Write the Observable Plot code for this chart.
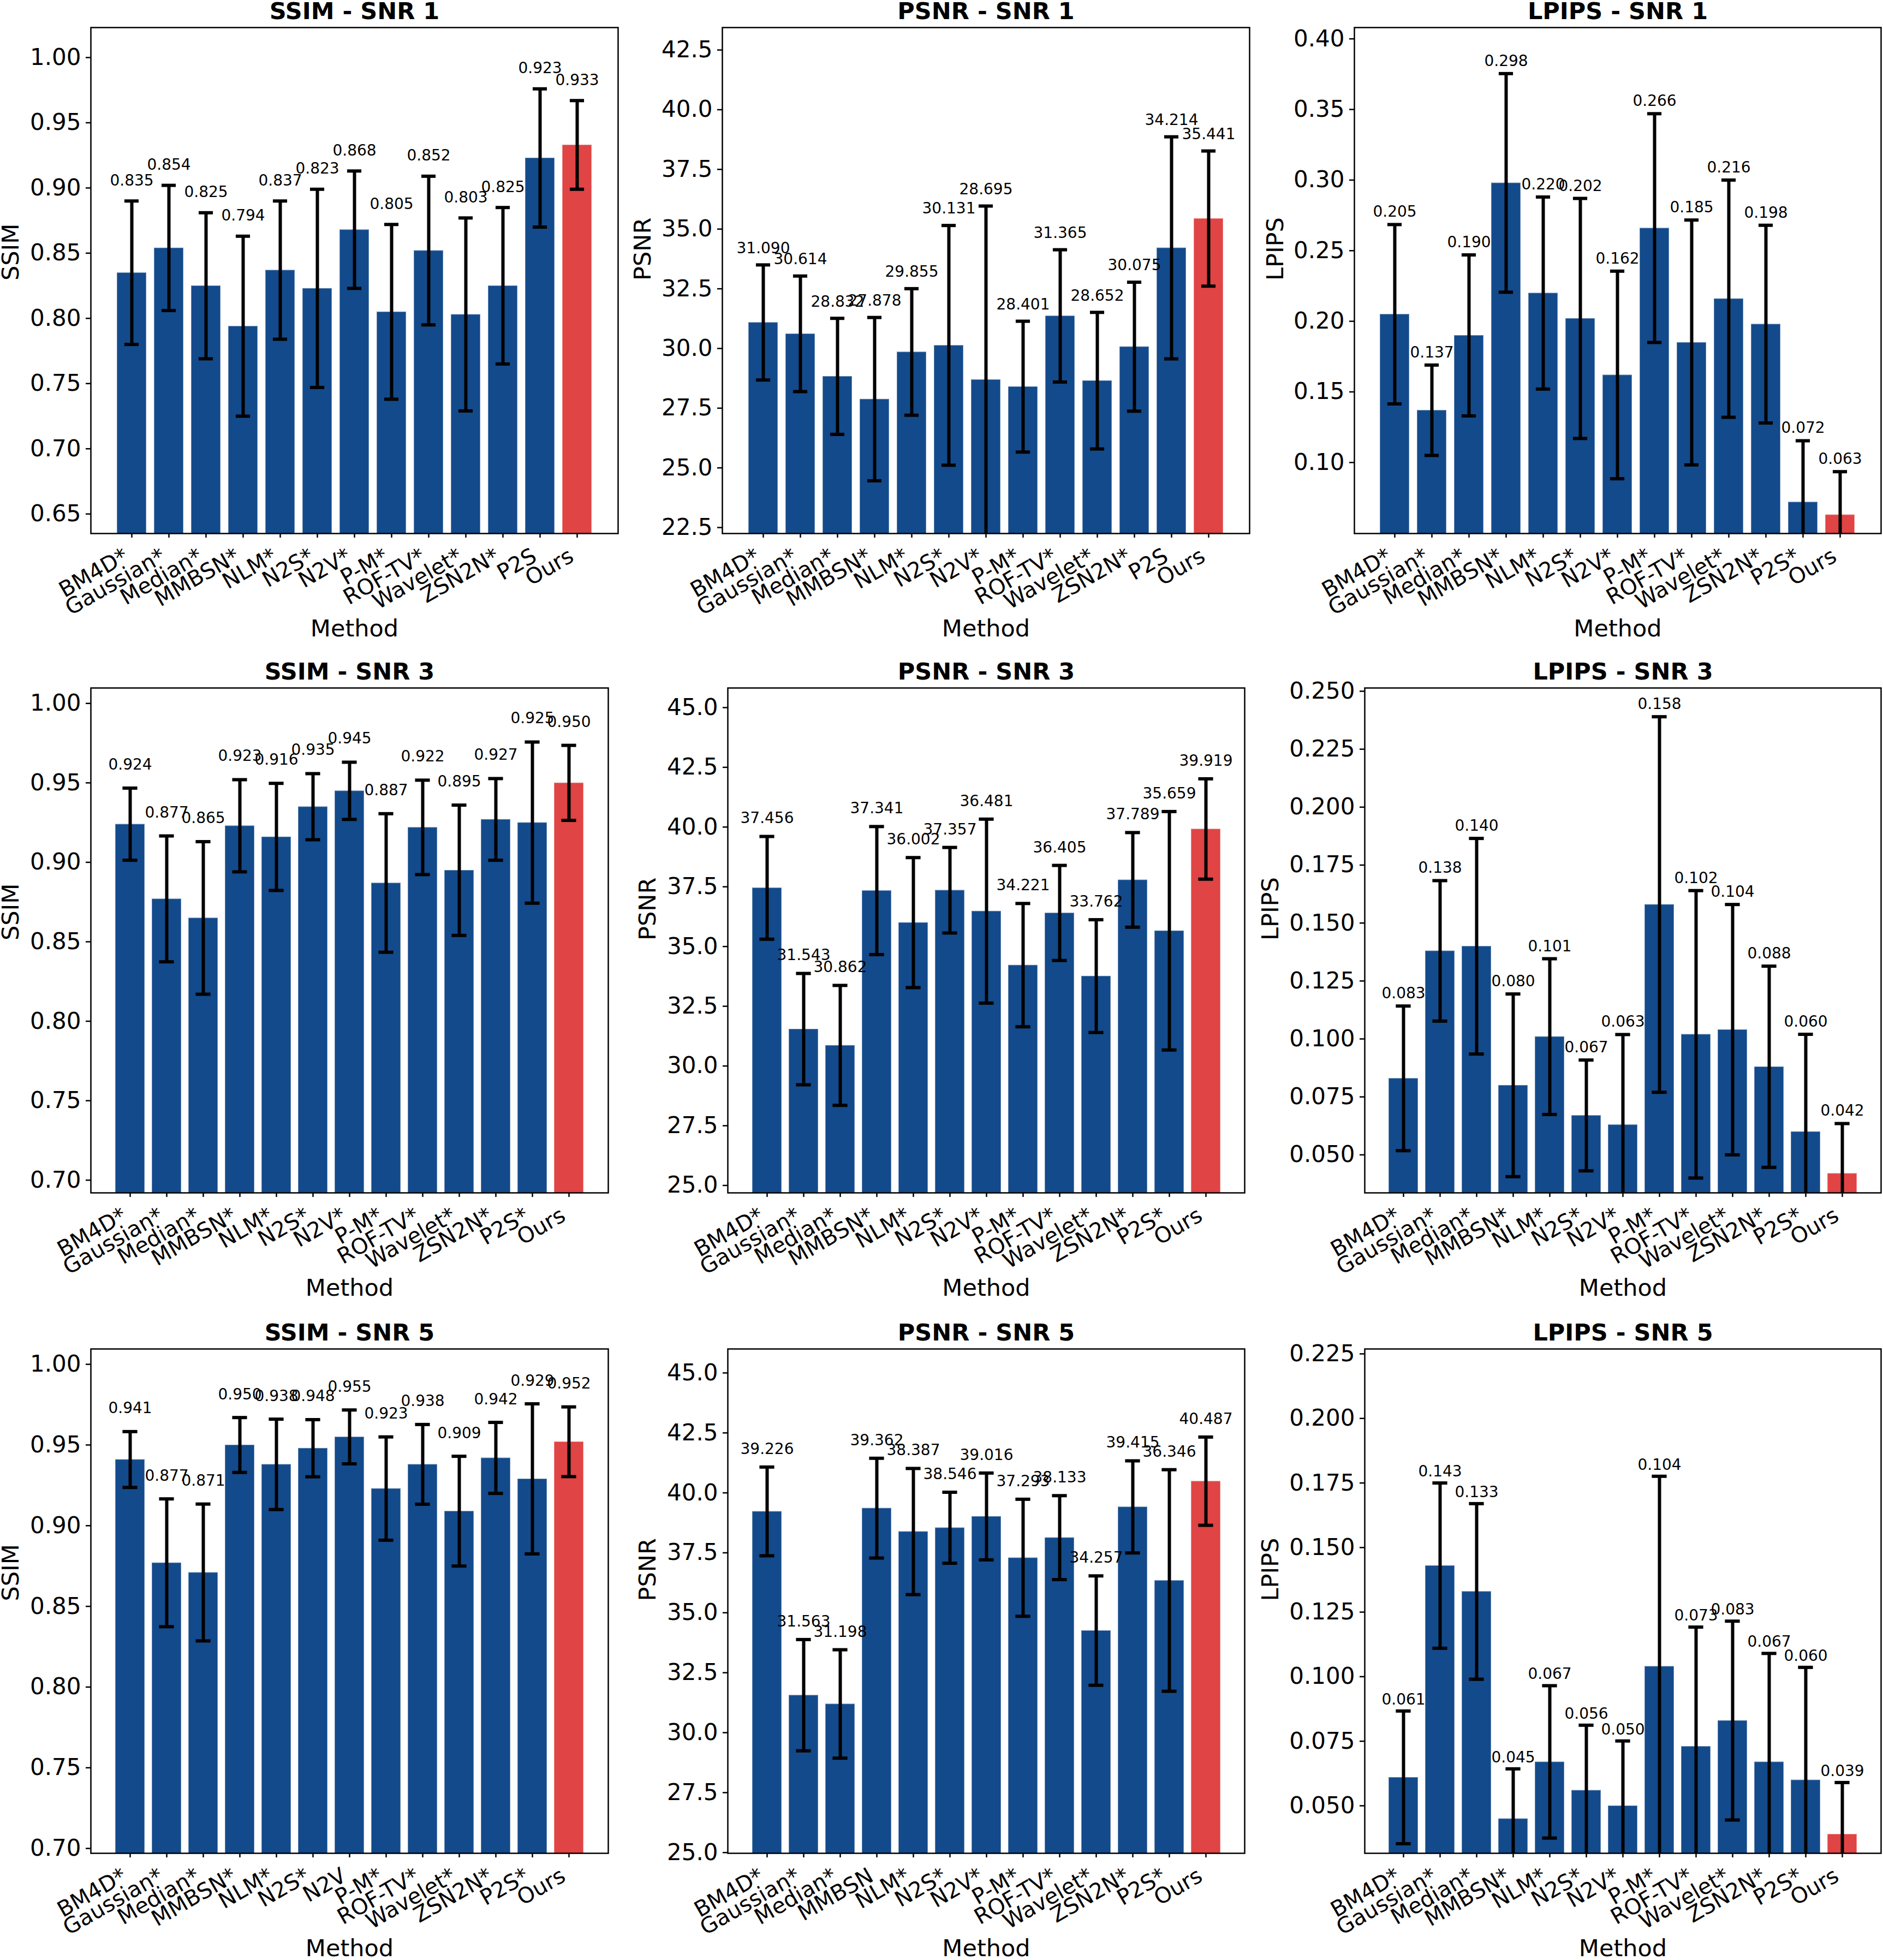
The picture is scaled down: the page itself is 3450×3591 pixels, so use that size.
<!DOCTYPE html>
<html><head><meta charset="utf-8">
<script src="https://cdn.jsdelivr.net/npm/d3@7"></script>
<script src="https://cdn.jsdelivr.net/npm/@observablehq/plot@0.6"></script>
<style>
html,body{margin:0;padding:0;background:#fff;}
#root{position:relative;width:3450px;height:3591px;overflow:hidden;background:#fff;font-family:"DejaVu Sans";}
#root svg{position:absolute;max-width:none;}
</style></head><body><div id="root"></div>
<script>
// ---------- categories ----------
const methodsSsimSnr1  = ["BM4D*","Gaussian*","Median*","MMBSN*","NLM*","N2S*","N2V*","P-M*","ROF-TV*","Wavelet*","ZSN2N*","P2S","Ours"];
const methodsPsnrSnr1  = ["BM4D*","Gaussian*","Median*","MMBSN*","NLM*","N2S*","N2V*","P-M*","ROF-TV*","Wavelet*","ZSN2N*","P2S","Ours"];
const methodsLpipsSnr1 = ["BM4D*","Gaussian*","Median*","MMBSN*","NLM*","N2S*","N2V*","P-M*","ROF-TV*","Wavelet*","ZSN2N*","P2S*","Ours"];
const methodsSnr3      = ["BM4D*","Gaussian*","Median*","MMBSN*","NLM*","N2S*","N2V*","P-M*","ROF-TV*","Wavelet*","ZSN2N*","P2S*","Ours"];
const methodsSsimSnr5  = ["BM4D*","Gaussian*","Median*","MMBSN*","NLM*","N2S*","N2V","P-M*","ROF-TV*","Wavelet*","ZSN2N*","P2S*","Ours"];
const methodsPsnrSnr5  = ["BM4D*","Gaussian*","Median*","MMBSN","NLM*","N2S*","N2V*","P-M*","ROF-TV*","Wavelet*","ZSN2N*","P2S*","Ours"];
const methodsLpipsSnr5 = ["BM4D*","Gaussian*","Median*","MMBSN*","NLM*","N2S*","N2V*","P-M*","ROF-TV*","Wavelet*","ZSN2N*","P2S*","Ours"];

// ---------- series values (mean) and std ----------
const ssimSnr1     = [0.835,0.854,0.825,0.794,0.837,0.823,0.868,0.805,0.852,0.803,0.825,0.923,0.933];
const ssimSnr1Std  = [0.055,0.048,0.056,0.069,0.053,0.076,0.045,0.067,0.057,0.074,0.060,0.053,0.034];
const psnrSnr1     = [31.090,30.614,28.832,27.878,29.855,30.131,28.695,28.401,31.365,28.652,30.075,34.214,35.441];
const psnrSnr1Std  = [2.41,2.42,2.43,3.42,2.65,5.02,7.27,2.74,2.77,2.86,2.70,4.65,2.83];
const lpipsSnr1    = [0.205,0.137,0.190,0.298,0.220,0.202,0.162,0.266,0.185,0.216,0.198,0.072,0.063];
const lpipsSnr1Std = [0.0635,0.032,0.057,0.0774,0.068,0.085,0.0735,0.081,0.0867,0.084,0.070,0.0434,0.0305];

const ssimSnr3     = [0.924,0.877,0.865,0.923,0.916,0.935,0.945,0.887,0.922,0.895,0.927,0.925,0.950];
const ssimSnr3Std  = [0.0227,0.0396,0.048,0.029,0.0337,0.0208,0.018,0.0436,0.0297,0.041,0.0257,0.0507,0.0236];
const psnrSnr3     = [37.456,31.543,30.862,37.341,36.002,37.357,36.481,34.221,36.405,33.762,37.789,35.659,39.919];
const psnrSnr3Std  = [2.15,2.33,2.51,2.68,2.72,1.79,3.85,2.58,1.99,2.36,1.98,4.99,2.10];
const lpipsSnr3    = [0.083,0.138,0.140,0.080,0.101,0.067,0.063,0.158,0.102,0.104,0.088,0.060,0.042];
const lpipsSnr3Std = [0.0312,0.0303,0.0465,0.0394,0.0336,0.0239,0.0389,0.081,0.062,0.054,0.0434,0.042,0.0215];

const ssimSnr5     = [0.941,0.877,0.871,0.950,0.938,0.948,0.955,0.923,0.938,0.909,0.942,0.929,0.952];
const ssimSnr5Std  = [0.0173,0.0396,0.0424,0.017,0.028,0.0177,0.0167,0.032,0.0247,0.034,0.022,0.0465,0.0216];
const psnrSnr5     = [39.226,31.563,31.198,39.362,38.387,38.546,39.016,37.293,38.133,34.257,39.415,36.346,40.487];
const psnrSnr5Std  = [1.85,2.32,2.26,2.08,2.63,1.48,1.81,2.44,1.75,2.28,1.92,4.62,1.84];
const lpipsSnr5    = [0.061,0.143,0.133,0.045,0.067,0.056,0.050,0.104,0.073,0.083,0.067,0.060,0.039];
const lpipsSnr5Std = [0.0257,0.032,0.034,0.0193,0.0295,0.0252,0.0251,0.0736,0.0462,0.0385,0.042,0.0436,0.020];

// ---------- tick labels ----------
const ssimTicksSnr1  = [0.65,0.70,0.75,0.80,0.85,0.90,0.95,1.00];
const psnrTicksSnr1  = [22.5,25.0,27.5,30.0,32.5,35.0,37.5,40.0,42.5];
const lpipsTicksSnr1 = [0.10,0.15,0.20,0.25,0.30,0.35,0.40];
const ssimTicks      = [0.70,0.75,0.80,0.85,0.90,0.95,1.00];
const psnrTicks      = [25.0,27.5,30.0,32.5,35.0,37.5,40.0,42.5,45.0];
const lpipsTicksSnr3 = [0.050,0.075,0.100,0.125,0.150,0.175,0.200,0.225,0.250];
const lpipsTicksSnr5 = [0.050,0.075,0.100,0.125,0.150,0.175,0.200,0.225];

// ---------- panel definitions ----------
const panels = [
  {title:"SSIM - SNR 1",  ylabel:"SSIM",  methods:methodsSsimSnr1,  mean:ssimSnr1,  std:ssimSnr1Std,  ticks:ssimTicksSnr1,  digits:2, domain:[0.635,1.023]},
  {title:"PSNR - SNR 1",  ylabel:"PSNR",  methods:methodsPsnrSnr1,  mean:psnrSnr1,  std:psnrSnr1Std,  ticks:psnrTicksSnr1,  digits:1, domain:[22.25,43.44]},
  {title:"LPIPS - SNR 1", ylabel:"LPIPS", methods:methodsLpipsSnr1, mean:lpipsSnr1, std:lpipsSnr1Std, ticks:lpipsTicksSnr1, digits:2, domain:[0.0497,0.408]},
  {title:"SSIM - SNR 3",  ylabel:"SSIM",  methods:methodsSnr3,      mean:ssimSnr3,  std:ssimSnr3Std,  ticks:ssimTicks,      digits:2, domain:[0.692,1.0097]},
  {title:"PSNR - SNR 3",  ylabel:"PSNR",  methods:methodsSnr3,      mean:psnrSnr3,  std:psnrSnr3Std,  ticks:psnrTicks,      digits:1, domain:[24.69,45.82]},
  {title:"LPIPS - SNR 3", ylabel:"LPIPS", methods:methodsSnr3,      mean:lpipsSnr3, std:lpipsSnr3Std, ticks:lpipsTicksSnr3, digits:3, domain:[0.0336,0.2514]},
  {title:"SSIM - SNR 5",  ylabel:"SSIM",  methods:methodsSsimSnr5,  mean:ssimSnr5,  std:ssimSnr5Std,  ticks:ssimTicks,      digits:2, domain:[0.697,1.0095]},
  {title:"PSNR - SNR 5",  ylabel:"PSNR",  methods:methodsPsnrSnr5,  mean:psnrSnr5,  std:psnrSnr5Std,  ticks:psnrTicks,      digits:1, domain:[24.97,46.0]},
  {title:"LPIPS - SNR 5", ylabel:"LPIPS", methods:methodsLpipsSnr5, mean:lpipsSnr5, std:lpipsSnr5Std, ticks:lpipsTicksSnr5, digits:3, domain:[0.0316,0.2269]}
];

// ---------- layout (page pixels) ----------
const rowBoxes = [{top:0,h:1200,fT:50,fB:977},{top:1200,h:1200,fT:1260,fB:2185},{top:2400,h:1191,fT:2471,fB:3395}];
const frameX = [
  [[166,1132],[1323,2289],[2481,3446]],
  [[166,1114],[1333,2280],[2500,3446]],
  [[166,1114],[1333,2280],[2500,3446]]
];
const ylabelDx = [[-146,-145,-144],[-146,-146,-172],[-146,-146,-172]];
const labelLift = [37.5,30.6,23,43,33,23,42.5,33,21];

const BLUE = "#134a8b", RED = "#e04444";
const root = document.getElementById("root");

panels.forEach((p, i) => {
  const r = Math.floor(i/3), c = i%3;
  const rb = rowBoxes[r];
  const [fL, fR] = frameX[r][c];
  const left = c*1150, width = 1150;
  const data = p.methods.map((m, k) => ({method:m, mean:p.mean[k], std:p.std[k]}));
  const bw = (fR - fL) / 14.08 * 0.8;
  const inset = Math.max(0, (bw - 27) / 2);
  const svg = Plot.plot({
    width, height: rb.h,
    marginLeft: fL - left, marginRight: left + width - fR,
    marginTop: rb.fT - rb.top, marginBottom: rb.top + rb.h - rb.fB,
    style: {fontFamily: "DejaVu Sans", background: "transparent", overflow: "visible", color: "black"},
    x: {type: "band", domain: p.methods, paddingInner: 0.2, paddingOuter: 0.64, axis: null},
    y: {domain: p.domain, axis: null},
    color: {type: "identity"},
    marks: [
      Plot.barY(data, {x: "method", y1: 0, y2: "mean", fill: d => d.method === "Ours" ? RED : BLUE,
        stroke: "white", strokeOpacity: 0.35, strokeWidth: 2, clip: true}),
      Plot.ruleX(data, {x: "method", y1: d => d.mean - d.std, y2: d => d.mean + d.std, stroke: "black", strokeWidth: 6, clip: true}),
      Plot.tickY(data, {x: "method", y: d => d.mean + d.std, stroke: "black", strokeWidth: 6, insetLeft: inset, insetRight: inset, clip: true}),
      Plot.tickY(data, {x: "method", y: d => d.mean - d.std, stroke: "black", strokeWidth: 6, insetLeft: inset, insetRight: inset, clip: true}),
      Plot.text(data, {x: "method", y: d => d.mean + d.std, text: d => d.mean.toFixed(3), dy: -labelLift[i],
        fontSize: 28, lineAnchor: "middle", fill: "black"}),
      Plot.frame({stroke: "black", strokeWidth: 2.5}),
      Plot.axisY(p.ticks, {tickSize: 9, tickPadding: 9, fontSize: 42, tickFormat: d => d.toFixed(p.digits), label: null, strokeWidth: 2.5}),
      Plot.axisX({tickSize: 8, tickFormat: () => "", label: null, strokeWidth: 2.5}),
      Plot.text(data, {x: "method", text: "method", frameAnchor: "bottom", rotate: -30, textAnchor: "end",
        lineAnchor: "middle", dy: 38, dx: -10, fontSize: 40, fill: "black"}),
      Plot.text([p.title], {frameAnchor: "top", dy: -29, fontSize: 43, fontWeight: "bold", lineAnchor: "middle", fill: "black"}),
      Plot.text([p.ylabel], {frameAnchor: "left", dx: ylabelDx[r][c], rotate: -90, fontSize: 43, lineAnchor: "middle", fill: "black"}),
      Plot.text(["Method"], {frameAnchor: "bottom", dy: 175, fontSize: 43, lineAnchor: "middle", fill: "black"})
    ]
  });
  svg.style.left = left + "px";
  svg.style.top = rb.top + "px";
  root.appendChild(svg);
});
</script>
</body></html>
